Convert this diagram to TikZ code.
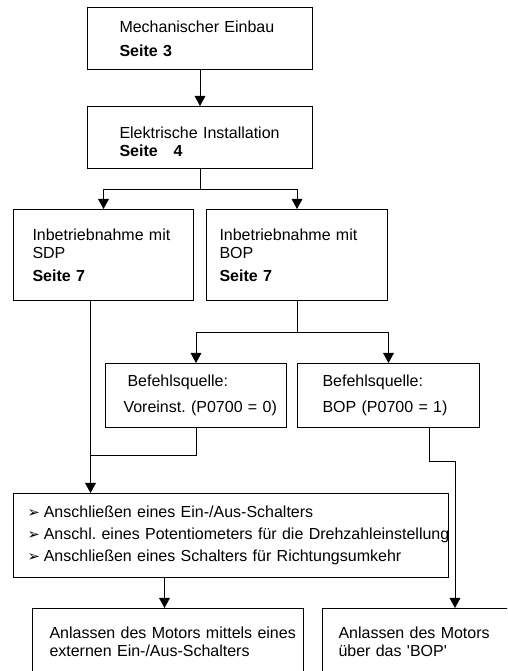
\documentclass[tikz,border=0pt]{standalone}
\usepackage{fontspec}
\setmainfont{Liberation Sans}
\newfontfamily\symfont{DejaVu Sans}
\usetikzlibrary{arrows.meta}

\tikzset{
  box/.style={draw, line width=0.75pt, anchor=north west, align=left, inner ysep=0pt,
    font=\fontsize{12}{13.5}\selectfont\frenchspacing},
  arr/.style={line width=0.75pt, -{Triangle[width=8pt,length=7.5pt]}},
  wire/.style={line width=0.75pt}
}
\newcommand{\pfeil}{{\symfont\fontsize{11}{11}\selectfont ➢}\hspace{3pt}}

\begin{document}
\begin{tikzpicture}[x=0.75pt,y=0.75pt]
\clip (0,0) rectangle (507,671);
\node[box, inner xsep=24pt, text width=120.75pt, minimum height=46.5pt] (mech) at (87,664)
  {Mechanischer Einbau\\[4.5pt]\textbf{Seite 3}};
\node[box, inner xsep=24pt, text width=120.75pt, minimum height=46.5pt] (elek) at (87,565)
  {\rule{0pt}{14.8pt}Elektrische Installation\\\textbf{Seite\ \ \ 4}};
\node[box, inner xsep=14.25pt, text width=106.5pt, minimum height=68.25pt] (sdp) at (13,462)
  {\mbox{Inbetriebnahme mit}\\SDP\\[3.75pt]\textbf{Seite 7}};
\node[box, inner xsep=9.75pt, text width=116.25pt, minimum height=68.25pt] (bop) at (206,462)
  {\mbox{Inbetriebnahme mit}\\BOP\\[3.75pt]\textbf{Seite 7}};
\node[box, inner xsep=13.5pt, text width=108.75pt, minimum height=48pt] (vor) at (105,308)
  {\hspace*{3pt}Befehlsquelle:\\[6pt]\mbox{Voreinst. (P0700 = 0)}};
\node[box, inner xsep=18.75pt, text width=99pt, minimum height=48pt] (bopq) at (297,308)
  {Befehlsquelle:\\[6pt]\mbox{BOP (P0700 = 1)}};
\node[box, inner xsep=10.5pt, text width=305.25pt, minimum height=63pt] (anschl) at (13,178)
  {\mbox{\pfeil Anschließen eines Ein-/Aus-Schalters}\\[3pt]
   \mbox{\pfeil Anschl. eines Potentiometers für die Drehzahleinstellung}\\[3pt]
   \mbox{\pfeil Anschließen eines Schalters für Richtungsumkehr}};
\node[box, inner xsep=12.75pt, text width=177.75pt, minimum height=49.5pt] (anlass) at (32,63)
  {\mbox{Anlassen des Motors mittels eines}\\\mbox{externen Ein-/Aus-Schalters}};
\node[box, inner xsep=12pt, text width=187.5pt, minimum height=49.5pt] (bopan) at (322,63)
  {Anlassen des Motors\\über das \textquotesingle BOP\textquotesingle};

\draw[arr] (mech) -- (elek);
\draw[arr] (elek.south) -- ++(0,-21) -| (sdp.north);
\draw[arr] (elek.south) -- ++(0,-21) -| (bop.north);
\draw[arr] (bop.south) -- ++(0,-32) -| (vor.north);
\draw[arr] (bop.south) -- ++(0,-32) -| (bopq.north);
\coordinate (sdpout) at ([xshift=-9.75pt]sdp.south);
\draw[arr] (sdpout) -- (sdpout |- anschl.north);
\coordinate (merge) at (90,215);
\draw[wire] (vor.south) |- (merge);
\coordinate (bopqout) at ([xshift=30.75pt]bopq.south);
\draw[arr] (bopqout) -- ++(0,-34) -| ([xshift=99.75pt]bopan.north west);
\coordinate (anschlout) at ([xshift=-49.875pt]anschl.south);
\draw[arr] (anschlout) -- (anschlout |- anlass.north);
\end{tikzpicture}
\end{document}
